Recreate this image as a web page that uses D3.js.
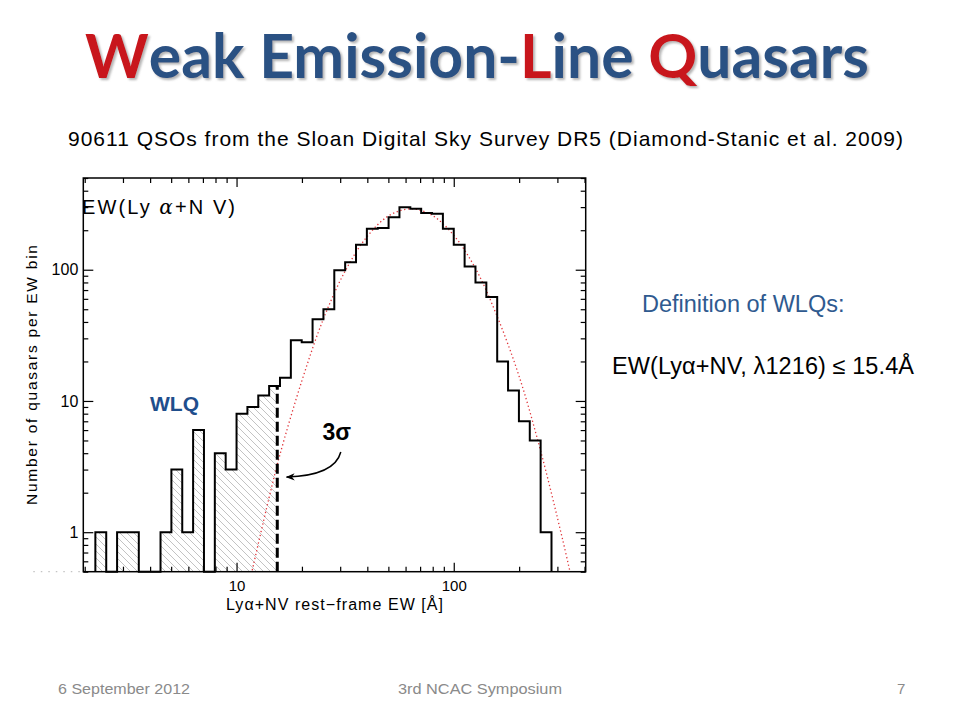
<!DOCTYPE html>
<html>
<head>
<meta charset="utf-8">
<script src="https://cdn.jsdelivr.net/npm/d3@7"></script>
<style>
  body { margin: 0; background: #fff; }
  svg { display: block; font-family: "Liberation Sans", Arial, sans-serif; }
</style>
</head>
<body>
<svg width="960" height="720"></svg>
<script>
// histogram bin edges, log10(EW / Å), 0.05 dex bins
const binEdgesLog = [0.35, 0.40, 0.45, 0.50, 0.55, 0.60, 0.65, 0.70, 0.75, 0.80,
  0.85, 0.90, 0.95, 1.00, 1.05, 1.10, 1.15, 1.20, 1.25, 1.30, 1.35, 1.40, 1.45,
  1.50, 1.55, 1.60, 1.65, 1.70, 1.75, 1.80, 1.85, 1.90, 1.95, 2.00, 2.05, 2.10,
  2.15, 2.20, 2.25, 2.30, 2.35, 2.40, 2.45];
// quasars per bin (one fewer than edges)
const binCounts = [1, 0, 1, 1, 0, 0, 1, 3, 1, 6, 0, 4, 3, 8, 9, 11, 13, 15, 29, 28,
  42, 50, 99, 114, 155, 205, 208, 251, 299, 291, 271, 267, 205, 155, 106, 80, 62,
  20, 12, 7, 5, 1];

// log-normal fit
const fitEW = [11.7, 14.1, 15.8, 20.0, 25.1, 31.6, 39.8, 50.1, 63.1, 79.4, 100,
  126, 158, 200, 251, 316, 350];
const fitN = [0.48, 1.82, 3.84, 14.3, 42.1, 97.5, 178, 257, 291, 260, 183, 102,
  44.6, 15.4, 4.18, 0.9, 0.43];

const wlqCut = 15.4;
const xMajor = [10, 100];
const yMajor = [1, 10, 100];

const svg = d3.select("svg");

const plot = { left: 83.3, right: 585.7, top: 178, bottom: 571.7 };

const x = d3.scaleLog().domain([1.97, 405]).range([plot.left, plot.right]);
const y = d3.scaleLog().domain([0.5, 500]).range([plot.bottom, plot.top]);

const defs = svg.append("defs");

const hatch = defs
  .append("pattern")
  .attr("id", "hatch")
  .attr("patternUnits", "userSpaceOnUse")
  .attr("width", 7)
  .attr("height", 7);
hatch
  .append("path")
  .attr("d", "M-1,-1L8,8M-1,6L1,8M6,-1L8,1")
  .attr("stroke", "#bcbcbc")
  .attr("stroke-width", 0.9);

defs
  .append("clipPath")
  .attr("id", "plotClip")
  .append("rect")
  .attr("x", plot.left)
  .attr("y", plot.top)
  .attr("width", plot.right - plot.left)
  .attr("height", plot.bottom - plot.top);

defs
  .append("clipPath")
  .attr("id", "wlqClip")
  .append("rect")
  .attr("x", plot.left)
  .attr("y", plot.top)
  .attr("width", x(wlqCut) - plot.left)
  .attr("height", plot.bottom - plot.top);

defs
  .append("marker")
  .attr("id", "arrow")
  .attr("viewBox", "0 0 10 10")
  .attr("refX", 9)
  .attr("refY", 5)
  .attr("markerWidth", 9)
  .attr("markerHeight", 9)
  .attr("markerUnits", "userSpaceOnUse")
  .attr("orient", "auto")
  .append("path")
  .attr("d", "M0,1L10,5L0,9L3,5Z")
  .attr("fill", "#000");

const shadow = defs.append("filter").attr("id", "shadow");
shadow
  .append("feDropShadow")
  .attr("dx", 2)
  .attr("dy", 2)
  .attr("stdDeviation", 1.2)
  .attr("flood-color", "#777")
  .attr("flood-opacity", 0.55);

// ---- title block (scaled horizontally to the slide's title width)
const titleG = svg.append("g").attr("filter", "url(#shadow)");
const title = titleG
  .append("text")
  .attr("x", 0)
  .attr("y", 0)
  .attr("text-anchor", "middle")
  .style("font-family", "'Comic Sans MS', Lato, 'DejaVu Sans', sans-serif")
  .style("font-weight", "bold")
  .style("font-size", "62px")
  .attr("fill", "#2c5183");
[["W", true], ["eak Emission-", false], ["L", true], ["ine ", false], ["Q", true], ["uasars", false]]
  .forEach(([t, red]) => {
    title.append("tspan").attr("fill", red ? "#c8161d" : "#2c5183").text(t);
  });
const titleW = title.node().getComputedTextLength();
titleG.attr("transform", `translate(477,78) scale(${780 / titleW},1)`);

svg
  .append("text")
  .attr("x", 68)
  .attr("y", 146)
  .attr("textLength", 835)
  .attr("lengthAdjust", "spacing")
  .style("font-size", "21px")
  .attr("fill", "#000")
  .text("90611 QSOs from the Sloan Digital Sky Survey DR5 (Diamond-Stanic et al. 2009)");

// ---- plot marks
const bins = binCounts.map((c, i) => ({ e: 10 ** binEdgesLog[i], c: c }));
const last = binEdgesLog.length - 1;
const yv = c => (c > 0 ? y(c) : y(0.5));

const areaData = bins.concat([{ e: 10 ** binEdgesLog[last], c: binCounts[last - 1] }]);
const histArea = d3
  .area()
  .curve(d3.curveStepAfter)
  .x(d => x(d.e))
  .y0(y(0.5))
  .y1(d => yv(d.c));

svg
  .append("path")
  .datum(areaData)
  .attr("d", histArea)
  .attr("fill", "url(#hatch)")
  .attr("clip-path", "url(#wlqClip)");

const lineData = [{ e: 10 ** binEdgesLog[0], c: 0 }]
  .concat(areaData)
  .concat([{ e: 10 ** binEdgesLog[last], c: 0 }]);
const histLine = d3
  .line()
  .curve(d3.curveStepAfter)
  .x(d => x(d.e))
  .y(d => yv(d.c));

const fitLine = d3
  .line()
  .curve(d3.curveCatmullRom)
  .x(d => x(d[0]))
  .y(d => y(d[1]));

svg
  .append("path")
  .datum(fitEW.map((e, i) => [e, fitN[i]]))
  .attr("d", fitLine)
  .attr("clip-path", "url(#plotClip)")
  .attr("fill", "none")
  .attr("stroke", "#e0353a")
  .attr("stroke-width", 1.3)
  .attr("stroke-dasharray", "1.3,2.6");

svg
  .append("path")
  .datum(lineData)
  .attr("d", histLine)
  .attr("fill", "none")
  .attr("stroke", "#000")
  .attr("stroke-width", 2)
  .attr("stroke-linejoin", "miter");

// 3 sigma cut
const cutBin = bins.filter(d => d.e <= wlqCut).pop();
svg
  .append("line")
  .attr("x1", x(wlqCut))
  .attr("x2", x(wlqCut))
  .attr("y1", y(0.5))
  .attr("y2", y(cutBin.c))
  .attr("stroke", "#000")
  .attr("stroke-width", 3)
  .attr("stroke-dasharray", "10,4");

// ---- axes
const xMinor = x.ticks().filter(v => !xMajor.includes(v));
const yMinor = y.ticks().filter(v => !yMajor.some(m => Math.abs(m - v) < 1e-9));

function axisGroup(axis, tx, ty, size) {
  const g = svg.append("g").attr("transform", `translate(${tx},${ty})`).call(axis);
  g.select(".domain").remove();
  g.selectAll(".tick line").attr("stroke", "#000").attr("stroke-width", 1.2);
  g.selectAll(".tick text")
    .style("font-family", "'Liberation Sans', Arial, sans-serif")
    .style("font-size", (size || 16) + "px")
    .attr("fill", "#000");
  return g;
}

axisGroup(d3.axisBottom(x).tickValues(xMajor).tickSize(-9).tickPadding(9).tickFormat(d3.format("d")), 0, plot.bottom, 15);
axisGroup(d3.axisBottom(x).tickValues(xMinor).tickSize(-5).tickFormat(""), 0, plot.bottom);
axisGroup(d3.axisTop(x).tickValues(xMajor).tickSize(-9).tickFormat(""), 0, plot.top);
axisGroup(d3.axisTop(x).tickValues(xMinor).tickSize(-5).tickFormat(""), 0, plot.top);
axisGroup(d3.axisLeft(y).tickValues(yMajor).tickSize(-10).tickPadding(5).tickFormat(d3.format("d")), plot.left, 0);
axisGroup(d3.axisLeft(y).tickValues(yMinor).tickSize(-5).tickFormat(""), plot.left, 0);
axisGroup(d3.axisRight(y).tickValues(yMajor).tickSize(-10).tickFormat(""), plot.right, 0);
axisGroup(d3.axisRight(y).tickValues(yMinor).tickSize(-5).tickFormat(""), plot.right, 0);

svg
  .append("rect")
  .attr("x", plot.left)
  .attr("y", plot.top)
  .attr("width", plot.right - plot.left)
  .attr("height", plot.bottom - plot.top)
  .attr("fill", "none")
  .attr("stroke", "#000")
  .attr("stroke-width", 1.5);

// faint dotted stub left of the frame
svg
  .append("line")
  .attr("x1", plot.left - 50)
  .attr("x2", plot.left)
  .attr("y1", plot.bottom)
  .attr("y2", plot.bottom)
  .attr("stroke", "#c4c4c4")
  .attr("stroke-width", 1.2)
  .attr("stroke-dasharray", "1.5,6");

svg
  .append("text")
  .attr("x", 226)
  .attr("y", 610)
  .attr("textLength", 217)
  .attr("lengthAdjust", "spacing")
  .style("font-size", "16px")
  .text("Lyα+NV rest−frame EW [Å]");

svg
  .append("text")
  .attr("transform", "translate(37,375) rotate(-90)")
  .attr("text-anchor", "middle")
  .attr("textLength", 260)
  .attr("lengthAdjust", "spacing")
  .style("font-size", "15.5px")
  .text("Number of quasars per EW bin");

const ewLab = svg
  .append("text")
  .attr("x", 82)
  .attr("y", 213.5)
  .attr("textLength", 153)
  .attr("lengthAdjust", "spacing")
  .style("font-size", "20px");
ewLab.append("tspan").text("EW(Ly ");
ewLab.append("tspan").style("font-family", "'DejaVu Serif', serif").style("font-style", "italic").text("α");
ewLab.append("tspan").text("+N V)");

svg
  .append("text")
  .attr("x", 150)
  .attr("y", 411)
  .style("font-size", "21px")
  .style("font-weight", "bold")
  .attr("fill", "#1f4e8c")
  .text("WLQ");

// 3 sigma annotation, placed in data space
const sigLab = [28.9, 5.03];
svg
  .append("text")
  .attr("x", x(sigLab[0]))
  .attr("y", y(sigLab[1]))
  .attr("text-anchor", "middle")
  .style("font-size", "23px")
  .style("font-weight", "bold")
  .text("3σ");

const arrowPts = [[30.2, 4.08], [28.3, 2.7], [17.0, 2.63]];
const ap = arrowPts.map(p => [x(p[0]), y(p[1])]);
svg
  .append("path")
  .attr("d", `M${ap[0][0]},${ap[0][1]}Q${ap[1][0]},${ap[1][1]} ${ap[2][0]},${ap[2][1]}`)
  .attr("fill", "none")
  .attr("stroke", "#000")
  .attr("stroke-width", 1.5)
  .attr("marker-end", "url(#arrow)");

// ---- right-hand notes
svg
  .append("text")
  .attr("x", 642)
  .attr("y", 311.5)
  .style("font-size", "23.5px")
  .attr("fill", "#2f5a8f")
  .text("Definition of WLQs:");

svg
  .append("text")
  .attr("x", 612)
  .attr("y", 374)
  .attr("textLength", 302)
  .attr("lengthAdjust", "spacing")
  .style("font-size", "23.5px")
  .attr("fill", "#000")
  .text("EW(Lyα+NV, λ1216) ≤ 15.4Å");

// ---- footer
const footer = [["6 September 2012", 58, 132], ["3rd NCAC Symposium", 398, 164], ["7", 897, 0]];
footer.forEach(([t, fx, len]) => {
  const ft = svg
    .append("text")
    .attr("x", fx)
    .attr("y", 694)
    .style("font-family", "'Liberation Sans Narrow', 'Liberation Sans', Arial, sans-serif")
    .style("font-size", "15px")
    .attr("fill", "#8a8a8a")
    .text(t);
  if (len) ft.attr("textLength", len).attr("lengthAdjust", "spacingAndGlyphs");
});
</script>
</body>
</html>
